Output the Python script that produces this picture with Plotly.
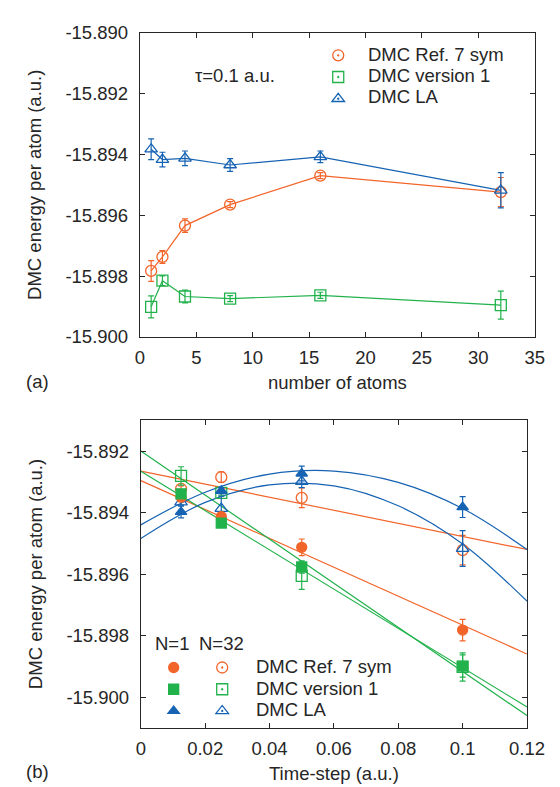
import plotly.graph_objects as go

# ---------------- data: panel (a) ----------------
n_atoms = [1, 2, 4, 8, 16, 32]
ref7_a = [-15.89783, -15.89737, -15.89634, -15.89565, -15.89470, -15.89524]
ref7_a_err = [0.00034, 0.00021, 0.00022, 0.00010, 0.00010, 0.00048]
v1_a = [-15.89901, -15.89815, -15.89867, -15.89874, -15.89863, -15.89895]
v1_a_err = [0.00036, 0.00016, 0.00021, 0.00010, 0.00010, 0.00046]
la_a = [-15.89383, -15.89417, -15.89413, -15.89435, -15.89408, -15.89518]
la_a_err = [0.00034, 0.00024, 0.00024, 0.00021, 0.00019, 0.00058]

# ---------------- data: panel (b) ----------------
tau = [0.0125, 0.025, 0.05, 0.1]
ref7_n1 = [-15.89350, -15.89413, -15.89513, -15.89782]
ref7_n1_err = [0.00010, 0.00010, 0.00027, 0.00035]
ref7_n32 = [-15.89323, -15.89285, -15.89352, -15.89522]
ref7_n32_err = [0.00010, 0.00017, 0.00032, 0.00048]
v1_n1 = [-15.89339, -15.89434, -15.89577, -15.89899]
v1_n1_err = [0.00010, 0.00010, 0.00020, 0.00036]
v1_n32 = [-15.89281, -15.89336, -15.89606, -15.89902]
v1_n32_err = [0.00030, 0.00010, 0.00044, 0.00046]
la_n1 = [-15.89398, -15.89329, -15.89273, -15.89382]
la_n1_err = [0.00019, 0.00010, 0.00024, 0.00034]
la_n32 = [-15.89366, -15.89387, -15.89299, -15.89517]
la_n32_err = [0.00010, 0.00040, 0.00020, 0.00058]

# fit curves
fit_x_lin = [0.0, 0.12]
fit_ref7_n1 = [-15.89296, -15.89860]
fit_ref7_n32 = [-15.89265, -15.89520]
fit_v1_n1 = [-15.89266, -15.90032]
fit_v1_n32 = [-15.89200, -15.90060]
fit_x_quad = [0.0, 0.02, 0.04, 0.06, 0.08, 0.10, 0.12]
fit_la_n1 = [-15.89440, -15.89334, -15.89275, -15.89265, -15.89302, -15.89387, -15.89520]
fit_la_n32 = [-15.89484, -15.89367, -15.89310, -15.89313, -15.89378, -15.89502, -15.89688]

# tick labels
ya_vals = [-15.900, -15.898, -15.896, -15.894, -15.892, -15.890]
ya_text = ["-15.900", "-15.898", "-15.896", "-15.894", "-15.892", "-15.890"]
xa_vals = [0, 5, 10, 15, 20, 25, 30, 35]
xa_text = ["0", "5", "10", "15", "20", "25", "30", "35"]
yb_vals = [-15.900, -15.898, -15.896, -15.894, -15.892]
yb_text = ["-15.900", "-15.898", "-15.896", "-15.894", "-15.892"]
xb_vals = [0, 0.02, 0.04, 0.06, 0.08, 0.1, 0.12]
xb_text = ["0", "0.02", "0.04", "0.06", "0.08", "0.1", "0.12"]

series_names = ["DMC Ref. 7 sym", "DMC version 1", "DMC LA"]

ORANGE = "#F2652A"
GREEN = "#22B24C"
BLUE = "#1763B3"
TXT = "#262626"
FONT = "Liberation Sans, Arial, sans-serif"
FS = 18.5
LEG_FS = 14.4   # sets legend row spacing (symbols only; labels are annotations)

fig = go.Figure()


def err(e):
    return dict(type="data", array=e, visible=True, thickness=1.2, width=3)


# ---- panel (a) ----
for y, e, c, sym in [(ref7_a, ref7_a_err, ORANGE, "circle-open"),
                     (v1_a, v1_a_err, GREEN, "square-open"),
                     (la_a, la_a_err, BLUE, "triangle-up-open")]:
    fig.add_trace(go.Scatter(x=n_atoms, y=y, error_y=err(e), mode="lines+markers",
                             line=dict(color=c, width=1.2),
                             marker=dict(symbol=sym, size=11, color=c, line=dict(width=1.3, color=c)),
                             showlegend=False, xaxis="x", yaxis="y"))

for c, sym in zip([ORANGE, GREEN, BLUE],
                  ["circle-open-dot", "square-open-dot", "triangle-up-open-dot"]):
    fig.add_trace(go.Scatter(x=[None], y=[None], mode="markers", name="",
                             marker=dict(symbol=sym, size=11, color=c, line=dict(width=1.3, color=c)),
                             legend="legend", showlegend=True, xaxis="x", yaxis="y"))

# ---- panel (b) fits ----
for xs, ys, c in [(fit_x_lin, fit_ref7_n1, ORANGE), (fit_x_lin, fit_ref7_n32, ORANGE),
                  (fit_x_lin, fit_v1_n1, GREEN), (fit_x_lin, fit_v1_n32, GREEN),
                  (fit_x_quad, fit_la_n1, BLUE), (fit_x_quad, fit_la_n32, BLUE)]:
    fig.add_trace(go.Scatter(x=xs, y=ys, mode="lines", line=dict(color=c, width=1.2, shape="spline"),
                             showlegend=False, xaxis="x2", yaxis="y2"))

# ---- panel (b) points ----
for y, e, c, sym, sz in [(ref7_n32, ref7_n32_err, ORANGE, "circle-open", 11),
                         (v1_n32, v1_n32_err, GREEN, "square-open", 11),
                         (la_n32, la_n32_err, BLUE, "triangle-up-open", 11),
                         (ref7_n1, ref7_n1_err, ORANGE, "circle", 10),
                         (v1_n1, v1_n1_err, GREEN, "square", 10),
                         (la_n1, la_n1_err, BLUE, "triangle-up", 10)]:
    fig.add_trace(go.Scatter(x=tau, y=y, error_y=err(e), mode="markers",
                             marker=dict(symbol=sym, size=sz, color=c, line=dict(width=1.3, color=c)),
                             showlegend=False, xaxis="x2", yaxis="y2"))

# legend symbols of panel (b): filled (N=1) and open (N=32)
for c, sym in zip([ORANGE, GREEN, BLUE], ["circle", "square", "triangle-up"]):
    fig.add_trace(go.Scatter(x=[None], y=[None], mode="markers", name="",
                             marker=dict(symbol=sym, size=10, color=c, line=dict(width=1.3, color=c)),
                             legend="legend2", showlegend=True, xaxis="x2", yaxis="y2"))
for c, sym in zip([ORANGE, GREEN, BLUE],
                  ["circle-open-dot", "square-open-dot", "triangle-up-open-dot"]):
    fig.add_trace(go.Scatter(x=[None], y=[None], mode="markers", name="",
                             marker=dict(symbol=sym, size=11, color=c, line=dict(width=1.3, color=c)),
                             legend="legend3", showlegend=True, xaxis="x2", yaxis="y2"))

W, H = 560, 787


def px(x):
    return x / W


def py(y):
    return 1 - y / H


axis_common = dict(showline=True, linecolor=TXT, linewidth=1, mirror="ticks", ticks="inside",
                   ticklen=5, tickcolor=TXT, tickwidth=1, showgrid=False, zeroline=False,
                   tickfont=dict(family=FONT, size=FS, color=TXT), tickmode="array")

legend_common = dict(font=dict(family=FONT, size=LEG_FS, color=TXT), bgcolor="rgba(0,0,0,0)",
                     xanchor="left", yanchor="top", tracegroupgap=0, itemwidth=30)

fig.update_layout(
    width=W, height=H, margin=dict(l=0, r=0, t=0, b=0),
    paper_bgcolor="white", plot_bgcolor="white",
    font=dict(family=FONT, size=FS, color=TXT),
    xaxis=dict(domain=[px(132.3), px(544)], range=[0, 35], anchor="y", ticklabelstandoff=4,
               tickvals=xa_vals, ticktext=xa_text, **axis_common),
    yaxis=dict(domain=[py(326.7), py(14)], range=[-15.900, -15.890], anchor="x", ticklabelstandoff=7,
               tickvals=ya_vals, ticktext=ya_text, **axis_common),
    xaxis2=dict(domain=[px(133.3), px(536)], range=[0, 0.12], anchor="y2", ticklabelstandoff=4,
                tickvals=xb_vals, ticktext=xb_text, **axis_common),
    yaxis2=dict(domain=[py(728.3), py(412.3)], range=[-15.901, -15.891], anchor="x2", ticklabelstandoff=7,
                tickvals=yb_vals, ticktext=yb_text, **axis_common),
    legend=dict(x=px(338.3 - 20), y=py(21), **legend_common),
    legend2=dict(x=px(166.7 - 20), y=py(650), **legend_common),
    legend3=dict(x=px(217.3 - 20), y=py(650), **legend_common),
    showlegend=True,
)

top_rows = [36.0, 57.7, 79.3]
bot_rows = [665.7, 687.7, 709.3]

annotations = [
    dict(text="DMC energy per atom (a.u.)", x=px(23), y=py(170.4), textangle=-90),
    dict(text="DMC energy per atom (a.u.)", x=px(23), y=py(570.3), textangle=-90),
    dict(text="number of atoms", x=px(338), y=py(373)),
    dict(text="Time-step (a.u.)", x=px(335), y=py(775)),
    dict(text="(a)", x=px(26), y=py(372)),
    dict(text="(b)", x=px(26), y=py(773)),
    dict(text="τ=0.1 a.u.", x=px(231.7), y=py(58.3)),
    dict(text="N=1", x=px(165.8), y=py(641.7)),
    dict(text="N=32", x=px(217.7), y=py(641.7)),
]
for name, r in zip(series_names, top_rows):
    annotations.append(dict(text=name, x=px(368.3), y=py(r), xanchor="left"))
for name, r in zip(series_names, bot_rows):
    annotations.append(dict(text=name, x=px(251.7), y=py(r), xanchor="left"))

for a in annotations:
    a.setdefault("xanchor", "center")
    fig.add_annotation(xref="paper", yref="paper", showarrow=False,
                       yanchor="middle", font=dict(family=FONT, size=FS, color=TXT), **a)

fig.write_html("out.html")
